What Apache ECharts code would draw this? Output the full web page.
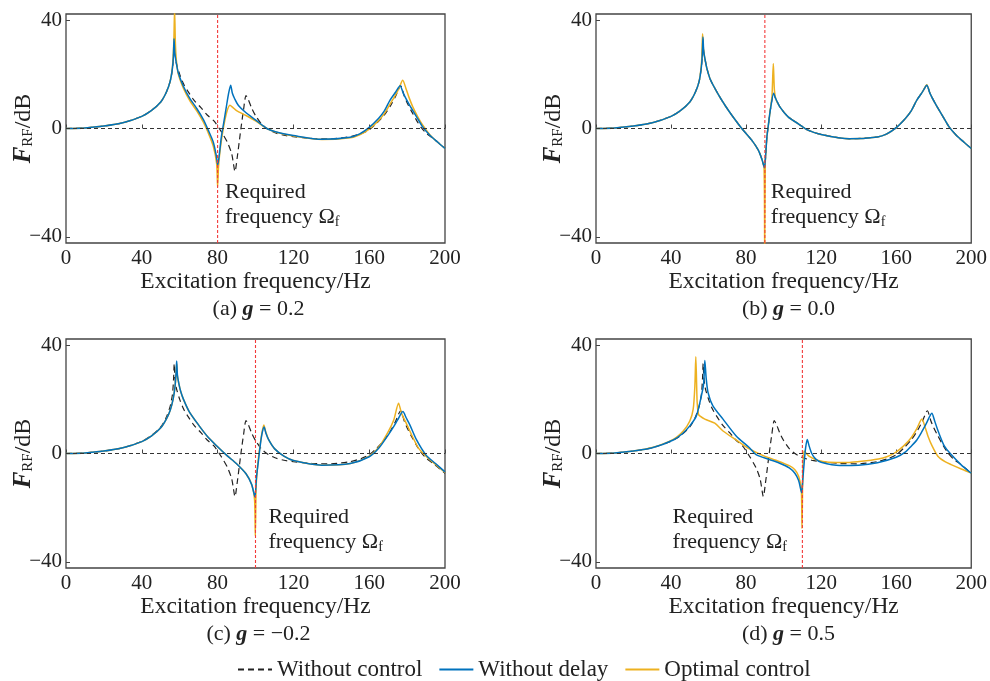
<!DOCTYPE html>
<html>
<head>
<meta charset="utf-8">
<script src="https://cdn.jsdelivr.net/npm/echarts@6/dist/echarts.min.js"></script>
<style>
  html, body { margin: 0; padding: 0; background: #fff; }
  #main { width: 990px; height: 681px; }
</style>
</head>
<body>
<div id="main"></div>
<script>
// ---- data: [frequency Hz, F_RF dB] ----
const withoutControl = [[0,0],[10,0.2],[20,0.9],[30,2.1],[40,4.5],[45,6.6],[50,9.8],[53,13.5],[55,17.5],[56.2,22],[56.8,28],[57.1,33.2],[57.5,28],[58.3,24],[60,20],[62,16.5],[64.2,13.9],[67.5,10.5],[71.2,7.7],[74.5,5],[78.2,2.7],[81.8,-1],[85.3,-5.3],[87.5,-9.5],[89.2,-15.9],[90.3,-11],[91.4,-5],[92.5,1],[93.7,7],[95,12.2],[96.3,10.5],[98,7.5],[100,4.8],[103,1.8],[106,0],[110,-1.5],[115,-2.5],[120,-3],[130,-3.7],[140,-3.8],[150,-3],[156,-1.8],[160,-0.5],[164,2],[168,5],[171.5,8.7],[174,12],[176.6,15.8],[178.5,12],[180,9.5],[182.2,6.5],[185,3],[187.5,0.3],[190.5,-2],[194.5,-4.1],[200,-7.3]];

const aWithoutDelay = [[0,0],[10,0.2],[20,0.9],[30,2.1],[40,4.5],[45,6.6],[50,9.8],[53,13.5],[55,17.5],[56.2,22.5],[56.7,27],[57,33.2],[57.4,28],[58,25],[59.3,20.5],[62,15.5],[65.4,11],[69,7.4],[72.5,3.3],[75,-0.5],[77.7,-5],[79.3,-10],[80.1,-13.5],[81,-9],[82,-3],[83.2,2],[84.5,7.5],[85.8,13],[86.9,16],[87.8,13],[89,11],[91,8.5],[95,5.8],[100,3.2],[106,0],[112,-1.5],[120,-2.6],[135,-4],[150,-3.2],[155,-2],[160,0.4],[165,3.8],[168,6.5],[171,10.5],[174,13.5],[176.3,15.8],[178,13],[181,9],[185,4.3],[188,0.8],[192,-2.5],[196,-5],[200,-7.4]];
const aOptimal = [[0,0],[10,0.2],[20,0.9],[30,2.1],[40,4.5],[45,6.6],[50,9.8],[53,13.5],[55,17.5],[56.2,23],[56.9,32],[57.3,44],[57.7,32],[58.2,25.5],[59.3,20],[62,14.8],[65.4,10.2],[69,6.5],[72.5,2.3],[75,-1.5],[77.7,-6.5],[79.5,-13],[80,-21.5],[80.5,-14],[81.5,-7],[83,0],[84.8,6],[86.5,8.6],[88,7.8],[90,6.6],[95,4.8],[100,2.8],[106,0],[112,-1.6],[120,-2.8],[135,-4.1],[150,-3.4],[155,-2.3],[160,-0.2],[165,3],[168,5.5],[171,9],[174,12.5],[175.8,15],[177.7,17.8],[179.3,15],[181,11.5],[183,8],[185.5,4.5],[188,1.5],[192,-2.3],[196,-5],[200,-7.4]];

const bWithoutDelay = [[0,0],[10,0.2],[20,0.9],[30,2.1],[40,4.5],[45,6.6],[50,9.8],[53,13.5],[55,17.5],[56.2,23],[56.7,28],[57,33.8],[57.4,28.5],[58,26],[59,22.5],[61,18],[65.4,12.3],[69,8.3],[72.4,4.9],[77.7,0],[83,-4.3],[86.5,-8],[88.5,-11.5],[89.8,-14.5],[90.5,-9],[91.1,-3],[92,2],[92.9,6.8],[94.7,13],[95.5,11.5],[98,8],[102.4,4.3],[107.7,1.8],[113,-0.6],[120,-2.2],[135,-3.8],[150,-3.1],[155,-2],[160,0.3],[165,3.8],[168,6.5],[171,10.5],[174,13.5],[176.3,16],[178,13],[181,9],[185,4.3],[188,0.8],[192,-2.5],[196,-5],[200,-7.4]];
const bOptimal = [[0,0],[10,0.2],[20,0.9],[30,2.1],[40,4.5],[45,6.6],[50,9.8],[53,13.5],[55,17.5],[56.3,25],[56.8,35],[57.3,29],[58,26],[59,22.5],[61,18],[65.4,12.3],[69,8.3],[72.4,4.9],[77.7,0],[83,-4.3],[86.5,-8],[88.5,-11.5],[89.6,-15],[89.9,-46],[90.2,-13],[90.6,-8],[91.1,-3],[92,2],[92.9,7],[93.8,12],[94.5,24],[95.1,14],[96,10.5],[98,8],[102.4,4.3],[107.7,1.8],[113,-0.6],[120,-2.2],[135,-3.8],[150,-3.1],[155,-2],[160,0.3],[165,3.8],[168,6.5],[171,10.5],[174,13.5],[176.3,16.2],[178,13],[181,9],[185,4.3],[188,0.8],[192,-2.5],[196,-5],[200,-7.4]];
// in (b) the uncontrolled curve lies under the blue one
const bWithoutControl = bWithoutDelay;

const cWithoutDelay = [[0,0],[10,0.2],[20,0.9],[30,2.1],[40,4.4],[45,6.4],[50,9.5],[53,12.8],[55,16],[56.5,20],[57.5,24.5],[58.1,30],[58.4,34.2],[58.8,29],[59.5,26],[60.5,23],[62,20],[65,15.5],[70,10.5],[75,6],[80,2.5],[85,-0.8],[90,-3.8],[95,-7.5],[98,-11.5],[99.7,-16],[100.5,-9],[101.5,-3],[102.5,3],[103.5,7.5],[104.5,9.8],[105.5,7.5],[107,5],[110,1.8],[115,-1],[120,-2.6],[135,-4.3],[150,-3.7],[160,-1.2],[165,1.9],[170,6.8],[173,10],[175,12.4],[177.8,15.5],[179.5,13.2],[181.5,10.5],[185,5],[190,-0.6],[195,-3.7],[200,-6.8]];
const cOptimal = [[0,0],[10,0.2],[20,0.9],[30,2.1],[40,4.4],[45,6.4],[50,9.5],[53,12.8],[55,16],[56.5,20],[57.5,24.5],[58.1,29.5],[58.4,33.2],[58.8,28.5],[59.5,26],[60.5,23],[62,20],[65,15.5],[70,10.5],[75,6],[80,2.5],[85,-0.8],[90,-3.8],[95,-7.5],[98,-11.5],[99.5,-17],[99.9,-30.4],[100.3,-13],[100.8,-7],[101.5,-2],[102.5,3.5],[103.5,8],[104.4,10.5],[105.5,7.8],[107,5],[110,1.8],[115,-1],[120,-2.6],[135,-4.3],[150,-3.7],[160,-1],[165,2.3],[170,8],[173,12.5],[175.5,18.6],[177,15],[180,10.5],[183,6],[186,2],[190,-1],[195,-4],[200,-7]];

const dWithoutDelay = [[0,0],[10,0.2],[20,0.9],[30,2.1],[41.2,5],[46,7.3],[50,10.2],[53.5,13.9],[56.2,21.4],[57.4,26],[58,34.4],[58.7,28],[59.7,22.6],[62.3,17.6],[67.7,12.7],[74.7,6.5],[81.8,2.1],[85.3,-0.4],[92.4,-2.2],[97.6,-3.5],[103,-5.3],[106,-7.3],[108,-10],[109.6,-14.5],[110.3,-9],[111,-3],[111.7,2],[112.6,5.2],[113.5,3],[115,0],[117,-2],[120,-3.2],[130,-4.4],[140,-4.3],[150,-3.4],[160,-1.4],[165,0.6],[168,2.7],[171,5],[173.4,7.7],[176,11],[179,14.9],[180.5,12],[182.5,8],[185.7,2.7],[189.3,-0.4],[194.5,-4.1],[200,-7.3]];
const dOptimal = [[0,0],[10,0.2],[20,0.9],[30,2.2],[41.2,5.2],[46.5,8.3],[50,12],[51.8,16.4],[52.7,25],[53.2,35.7],[53.9,19],[54.6,14.5],[55.3,13.9],[58,12.7],[63.3,11.2],[67.7,8.3],[74.7,5],[81.8,1.7],[88.8,-0.7],[95.9,-2.5],[103,-4.5],[106,-6],[108,-8.4],[109.4,-13],[109.8,-27.7],[110.2,-8],[110.9,0.9],[113.5,-1],[118,-2.5],[124,-3.2],[135,-3.3],[141.5,-2.9],[150.5,-2],[155,-1.2],[159.3,0.2],[164,2.8],[168,5.8],[171,9.2],[173.7,12.7],[175.5,9.5],[176.9,6.5],[179,3],[182.2,-1],[186,-3],[189.3,-4.1],[195,-5.8],[200,-7.2]];

const requiredFreq = [80, 90, 100, 110];
const panelTags = ['(a)', '(b)', '(c)', '(d)'];
const gValues = ['0.2', '0.0', '\u22120.2', '0.5'];
const yTickValues = [-40, 0, 40];
const seriesNames = ['Without control', 'Without delay', 'Optimal control'];

const panels = [
  [withoutControl, aWithoutDelay, aOptimal],
  [bWithoutControl, bWithoutDelay, bOptimal],
  [withoutControl, cWithoutDelay, cOptimal],
  [withoutControl, dWithoutDelay, dOptimal]
];

// ---- layout / style ----
const FONT = 'Liberation Serif';
const TXT = '#222';
const FRAME = '#444';
const RED = '#f23a3a';
const colors = ['#222222', '#0072BD', '#EDB120'];
const gridBoxes = [
  { left: 66, top: 14 }, { left: 596, top: 14 },
  { left: 66, top: 339 }, { left: 596, top: 339 }
];
const GW = 379, GH = 229;
const Y_MIN = -42.3, Y_MAX = 42.3;
// where the "Required frequency" note sits, in data units of each panel
const noteAnchors = [[83.9, -18.8], [93.2, -18.8], [106.8, -19.1], [40.8, -19.1]];

const myChart = echarts.init(document.getElementById('main'), null, { renderer: 'canvas' });

const grid = [], xAxis = [], yAxis = [], series = [];
gridBoxes.forEach((b, i) => {
  grid.push({ left: b.left, top: b.top, width: GW, height: GH, show: true,
    borderColor: FRAME, borderWidth: 1.3, backgroundColor: 'transparent' });
  xAxis.push({
    type: 'value', gridIndex: i, min: 0, max: 200, interval: 40,
    name: 'Excitation frequency/Hz', nameLocation: 'middle', nameGap: 26,
    nameTextStyle: { fontFamily: FONT, fontSize: 23.5, color: TXT },
    axisLine: { show: false },
    axisTick: { inside: true, length: 4, lineStyle: { color: FRAME, width: 1 } },
    axisLabel: { fontFamily: FONT, fontSize: 21, color: TXT, margin: 5 },
    splitLine: { show: false }
  });
  yAxis.push({
    type: 'value', gridIndex: i, min: Y_MIN, max: Y_MAX,
    name: '{it|F}{sub|RF}/dB', nameLocation: 'middle', nameGap: 30, nameRotate: 90,
    nameMoveOverlap: false,
    nameTextStyle: { fontFamily: FONT, fontSize: 24, color: TXT,
      rich: {
        it: { fontFamily: FONT, fontSize: 25, fontStyle: 'italic', fontWeight: 'bold', color: TXT },
        sub: { fontFamily: FONT, fontSize: 15, color: TXT, padding: [10, 0, 0, 0] }
      } },
    axisLine: { show: false, onZero: false },
    axisTick: { inside: true, length: 4, customValues: yTickValues, lineStyle: { color: FRAME, width: 1 } },
    axisLabel: { fontFamily: FONT, fontSize: 21, color: TXT, margin: 4, customValues: yTickValues,
      formatter: v => String(v).replace('-', '\u2212') },
    splitLine: { show: false }
  });

  const curves = panels[i];
  // draw order: uncontrolled, optimal, without delay (blue on top)
  [0, 2, 1].forEach(k => {
    const s = {
      name: seriesNames[k], type: 'line', xAxisIndex: i, yAxisIndex: i,
      data: curves[k], showSymbol: false, symbol: 'none', smooth: 0.25,
      clip: true, silent: true,
      lineStyle: { color: colors[k], width: k === 0 ? 1.2 : 1.5, type: k === 0 ? [6, 4] : 'solid' },
      itemStyle: { color: colors[k] }
    };
    if (k === 0) {
      // zero reference line
      s.markLine = {
        silent: true, symbol: ['none', 'none'], label: { show: false },
        lineStyle: { color: '#333', type: [4, 3], width: 1 },
        data: [{ yAxis: 0 }]
      };
    }
    series.push(s);
  });
  // required frequency: vertical red dashed line across the whole panel
  series.push({
    name: 'Required frequency', type: 'line', xAxisIndex: i, yAxisIndex: i,
    data: [[requiredFreq[i], Y_MIN], [requiredFreq[i], Y_MAX]],
    showSymbol: false, symbol: 'none', silent: true, z: 4,
    lineStyle: { color: RED, width: 1.1, type: [3, 2] },
    itemStyle: { color: RED }
  });
});

myChart.setOption({
  animation: false,
  backgroundColor: '#fff',
  grid, xAxis, yAxis, series,
  legend: {
    data: seriesNames, top: 653, left: 232,
    itemWidth: 34, itemHeight: 10, itemGap: 16,
    itemStyle: { opacity: 0 },
    textStyle: { fontFamily: FONT, fontSize: 23, color: TXT }
  }
});

// captions and notes, placed after the axes exist
const graphic = [];
gridBoxes.forEach((b, i) => {
  graphic.push({
    type: 'text', x: b.left + GW / 2 + 3, y: b.top + GH + 66, silent: true,
    style: {
      text: panelTags[i] + ' {bi|g} = ' + gValues[i],
      fontFamily: FONT, fontSize: 22, fill: TXT, align: 'center', verticalAlign: 'middle',
      rich: { bi: { fontFamily: FONT, fontSize: 22, fontStyle: 'italic', fontWeight: 'bold', fill: TXT } }
    }
  });
  const p = myChart.convertToPixel({ gridIndex: i }, noteAnchors[i]);
  graphic.push({
    type: 'text', x: p[0], y: p[1], silent: true,
    style: {
      text: 'Required\nfrequency \u03a9{sub|f}',
      fontFamily: FONT, fontSize: 22, fill: TXT, lineHeight: 25, align: 'left', verticalAlign: 'top',
      rich: { sub: { fontFamily: FONT, fontSize: 14, fill: TXT, padding: [10, 0, 0, 0] } }
    }
  });
});
myChart.setOption({ graphic });
</script>
</body>
</html>
